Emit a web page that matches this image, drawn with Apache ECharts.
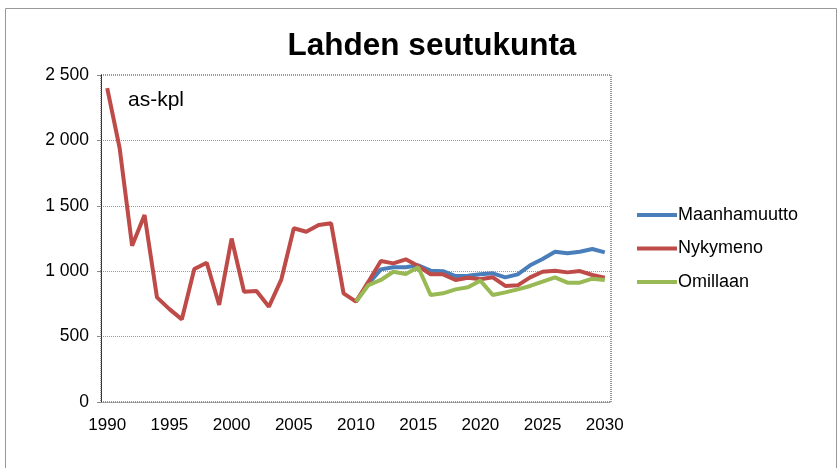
<!DOCTYPE html>
<html>
<head>
<meta charset="utf-8">
<script src="https://cdn.jsdelivr.net/npm/echarts@6/dist/echarts.min.js"></script>
<style>
  html, body { margin: 0; padding: 0; background: #fff; }
  #chart { width: 838px; height: 468px; }
</style>
</head>
<body>
<div id="chart"></div>
<script>
// vuodet 1990-2030
const years = [];
for (let y = 1990; y <= 2030; y++) years.push(String(y));

const nykymeno = [
  2400, 1940, 1195, 1430, 800, 710, 632, 1017, 1065, 742,
  1250, 843, 849, 729, 938, 1328, 1302, 1353, 1366, 831,
  767, 920, 1078, 1060, 1091, 1040, 976, 976, 933, 950,
  938, 953, 887, 892, 953, 996, 1004, 991, 1001, 971, 950
];
const maanhamuutto = [
  null, null, null, null, null, null, null, null, null, null,
  null, null, null, null, null, null, null, null, null, null,
  767, 905, 1014, 1030, 1030, 1045, 1004, 1000, 963, 965,
  976, 984, 953, 976, 1045, 1093, 1149, 1137, 1149, 1170, 1144
];
const omillaan = [
  null, null, null, null, null, null, null, null, null, null,
  null, null, null, null, null, null, null, null, null, null,
  767, 894, 933, 996, 979, 1030, 818, 831, 861, 877,
  928, 818, 838, 861, 887, 920, 953, 912, 912, 943, 933
];

const font = "'Liberation Sans', Arial, sans-serif";
const chart = echarts.init(document.getElementById("chart"));
const lineSeries = (name, data, color) => ({
  name,
  type: "line",
  data,
  color,
  symbol: "none",
  lineStyle: { width: 4, color },
  animation: false
});

chart.setOption({
  animation: false,
  title: {
    text: "Lahden seutukunta",
    left: 427,
    textAlign: "center",
    top: 25,
    textStyle: { fontFamily: font, fontSize: 31.5, fontWeight: "bold", color: "#000" }
  },
  legend: {
    orient: "vertical",
    left: 632,
    top: 201,
    itemWidth: 40,
    itemHeight: 4,
    itemGap: 15.5,
    icon: "rect",
    textStyle: { fontFamily: font, fontSize: 18, color: "#000", padding: [0, 0, 0, -4] },
    data: ["Maanhamuutto", "Nykymeno", "Omillaan"]
  },
  grid: {
    left: 101,
    right: 227,
    top: 75,
    bottom: 66,
    show: true,
    borderColor: "#333",
    borderWidth: 1,
    borderType: "dotted"
  },
  xAxis: {
    type: "category",
    data: years,
    boundaryGap: true,
    axisLine: { lineStyle: { color: "#888", type: "dotted" } },
    axisTick: { interval: 4, length: 4, lineStyle: { color: "#888" } },
    axisLabel: { interval: 4, fontFamily: font, fontSize: 17, color: "#000", margin: 15 }
  },
  yAxis: {
    type: "value",
    min: 0,
    max: 2500,
    interval: 500,
    axisLine: { show: true, lineStyle: { color: "#222", type: "dotted" } },
    axisTick: { show: true, length: 4, lineStyle: { color: "#888" } },
    splitLine: { lineStyle: { color: "#999", type: "dotted" } },
    axisLabel: {
      fontFamily: font,
      fontSize: 17.5,
      color: "#000",
      margin: 12,
      formatter: (v) => String(v).replace(/\B(?=(\d{3})+(?!\d))/g, " ")
    }
  },
  graphic: [
    {
      type: "rect",
      shape: { x: 5.5, y: 8.5, width: 831, height: 470 },
      style: { fill: "none", stroke: "#999", lineWidth: 1 }
    },
    {
      type: "text",
      left: 128,
      top: 90,
      style: { text: "as-kpl", fontFamily: font, fontSize: 21, fill: "#000" }
    }
  ],
  series: [
    lineSeries("Maanhamuutto", maanhamuutto, "#4a7ebb"),
    lineSeries("Nykymeno", nykymeno, "#be4b48"),
    lineSeries("Omillaan", omillaan, "#98b954")
  ]
});
</script>
</body>
</html>
